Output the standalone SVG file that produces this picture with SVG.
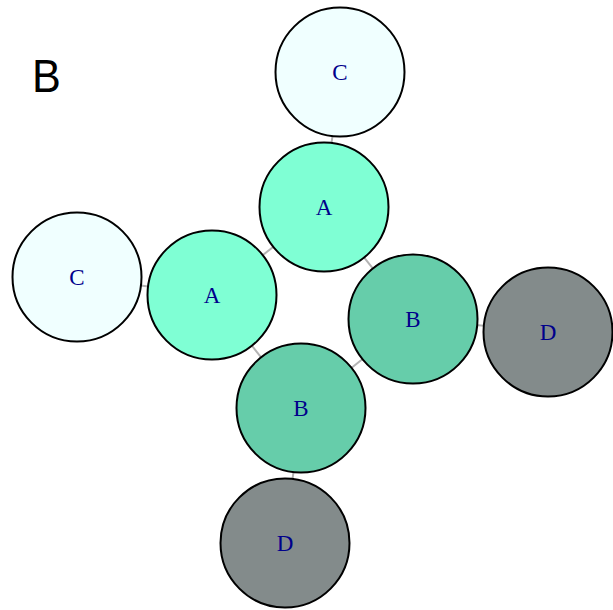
<svg xmlns="http://www.w3.org/2000/svg" width="613" height="610" viewBox="0 0 613 610">
<style>
.e{stroke:#b3b3b3;stroke-width:2;fill:none}
.n{stroke:#000;stroke-width:2}
.t{font-family:"Liberation Serif",serif;font-size:23px;fill:#00008b;text-anchor:middle;dominant-baseline:central}
.az{fill:#f0ffff}.aq{fill:#7fffd4}.ma{fill:#66cdaa}.gr{fill:#838b8b}
</style>
<rect width="613" height="610" fill="#fff"/>
<text x="32" y="92" font-family="Liberation Sans,Arial,sans-serif" font-size="47" fill="#000" transform="translate(32 92) scale(0.92 1) translate(-32 -92)">B</text>
<g id="edges">
<line class="e" x1="340" y1="72" x2="324" y2="207"/>
<line class="e" x1="324" y1="207" x2="212" y2="295"/>
<line class="e" x1="324" y1="207" x2="413" y2="319"/>
<line class="e" x1="212" y1="295" x2="77" y2="277"/>
<line class="e" x1="212" y1="295" x2="301" y2="408"/>
<line class="e" x1="413" y1="319" x2="548" y2="332"/>
<line class="e" x1="413" y1="319" x2="301" y2="408"/>
<line class="e" x1="301" y1="408" x2="285" y2="543"/>
</g>
<g id="n1"><circle class="n az" cx="340" cy="72" r="64.5"/><text class="t" x="340" y="72">C</text></g>
<g id="n2"><circle class="n aq" cx="324" cy="207" r="64.5"/><text class="t" x="324" y="207">A</text></g>
<g id="n3"><circle class="n az" cx="77" cy="277" r="64.5"/><text class="t" x="77" y="277">C</text></g>
<g id="n4"><circle class="n aq" cx="212" cy="295" r="64.5"/><text class="t" x="212" y="295">A</text></g>
<g id="n5"><circle class="n ma" cx="413" cy="319" r="64.5"/><text class="t" x="413" y="319">B</text></g>
<g id="n6"><circle class="n gr" cx="548" cy="332" r="64.5"/><text class="t" x="548" y="332">D</text></g>
<g id="n7"><circle class="n ma" cx="301" cy="408" r="64.5"/><text class="t" x="301" y="408">B</text></g>
<g id="n8"><circle class="n gr" cx="285" cy="543" r="64.5"/><text class="t" x="285" y="543">D</text></g>
</svg>
